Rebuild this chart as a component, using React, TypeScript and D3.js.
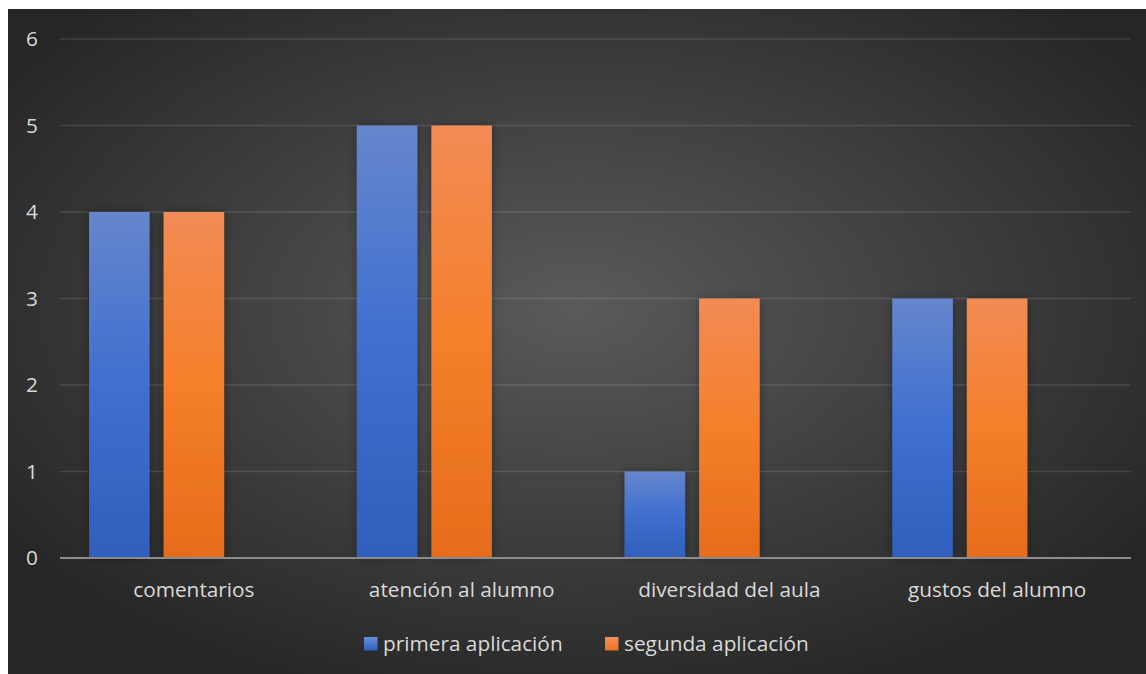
import React from "react";
import * as d3 from "d3";

const categories = ["comentarios", "atención al alumno", "diversidad del aula", "gustos del alumno"];
const seriesNames = ["primera aplicación", "segunda aplicación", ""];
const primera = [4, 5, 1, 3];
const segunda = [4, 5, 3, 3];
const tercera = [0, 0, 0, 0];
const yTicks = [0, 1, 2, 3, 4, 5, 6];

const W = 1146;
const H = 674;
const plot = { left: 60, right: 1131, top: 39, bottom: 558 };
const FONT = "'Open Sans', sans-serif";
const FS = 20.8;

export default function App() {
  const series = [primera, segunda, tercera];
  const y = d3.scaleLinear().domain([0, 6]).range([plot.bottom, plot.top]);
  const x0 = d3.scaleBand<string>().domain(categories).range([plot.left, plot.right]).paddingInner(0).paddingOuter(0);
  const bw = x0.bandwidth();
  const groupInner = bw * 0.783;
  const x1 = d3
    .scaleBand<number>()
    .domain([0, 1, 2])
    .range([(bw - groupInner) / 2, (bw + groupInner) / 2])
    .paddingInner(0.188)
    .paddingOuter(0);
  const fills = ["url(#gBlue)", "url(#gOrange)", "none"];

  return (
    <svg
      width={W}
      height={H}
      style={{ position: "absolute", left: 0, top: 0 }}
      xmlns="http://www.w3.org/2000/svg"
    >
      <defs>
        <radialGradient id="bg" cx="50%" cy="45%" r="62%">
          <stop offset="0%" stopColor="#5a5a5a" />
          <stop offset="100%" stopColor="#262626" />
        </radialGradient>
        <linearGradient id="gBlue" x1="0" y1="0" x2="0" y2="1">
          <stop offset="0%" stopColor="#6686cc" />
          <stop offset="50%" stopColor="#3f6fd0" />
          <stop offset="100%" stopColor="#2f60bb" />
        </linearGradient>
        <linearGradient id="gOrange" x1="0" y1="0" x2="0" y2="1">
          <stop offset="0%" stopColor="#f28b55" />
          <stop offset="50%" stopColor="#f57f2a" />
          <stop offset="100%" stopColor="#e56c1c" />
        </linearGradient>
        <linearGradient id="lBlue" x1="0" y1="0" x2="0" y2="1">
          <stop offset="0%" stopColor="#6a8fd6" />
          <stop offset="100%" stopColor="#2f62c0" />
        </linearGradient>
        <linearGradient id="lOrange" x1="0" y1="0" x2="0" y2="1">
          <stop offset="0%" stopColor="#f4915c" />
          <stop offset="100%" stopColor="#ea701e" />
        </linearGradient>
        <filter id="shadow" x="-30%" y="-10%" width="160%" height="120%">
          <feDropShadow dx="0" dy="0" stdDeviation="5" floodColor="#000" floodOpacity="0.35" />
        </filter>
      </defs>
      <rect x={0} y={0} width={W} height={H} fill="#ffffff" />
      <rect x={8} y={9} width={W - 8} height={H - 9} fill="url(#bg)" />

      {yTicks.map((t) =>
        t === 0 ? null : (
          <line
            key={t}
            x1={plot.left}
            x2={plot.right}
            y1={y(t)}
            y2={y(t)}
            stroke="#ffffff"
            strokeOpacity={0.12}
            strokeWidth={1.5}
          />
        )
      )}
      {yTicks.map((t) => (
        <text
          key={"l" + t}
          x={32}
          y={y(t)}
          dy="0.35em"
          textAnchor="middle"
          fill="#d9d9d9"
          fontSize={FS}
          fontFamily={FONT}
        >
          {t}
        </text>
      ))}

      {categories.map((c, ci) => (
        <g key={c} transform={`translate(${x0(c)},0)`}>
          {series.map((s, si) =>
            si === 2 || s[ci] === 0 ? null : (
              <rect
                key={si}
                x={x1(si)}
                y={y(s[ci])}
                width={x1.bandwidth()}
                height={y(0) - y(s[ci])}
                fill={fills[si]}
                filter="url(#shadow)"
              />
            )
          )}
          <text
            x={bw / 2}
            y={590}
            dy="0.35em"
            textAnchor="middle"
            fill="#d9d9d9"
            fontSize={FS}
            fontFamily={FONT}
          >
            {c}
          </text>
        </g>
      ))}

      <line
        x1={plot.left}
        x2={plot.right}
        y1={y(0)}
        y2={y(0)}
        stroke="#8c8c8c"
        strokeWidth={2}
      />

      <g>
        <rect x={364} y={637} width={13.5} height={13.5} fill="url(#lBlue)" />
        <text x={383} y={643.5} dy="0.35em" fill="#d9d9d9" fontSize={FS} fontFamily={FONT}>
          {seriesNames[0]}
        </text>
        <rect x={605} y={637} width={13.5} height={13.5} fill="url(#lOrange)" />
        <text x={624} y={643.5} dy="0.35em" fill="#d9d9d9" fontSize={FS} fontFamily={FONT}>
          {seriesNames[1]}
        </text>
      </g>
    </svg>
  );
}
